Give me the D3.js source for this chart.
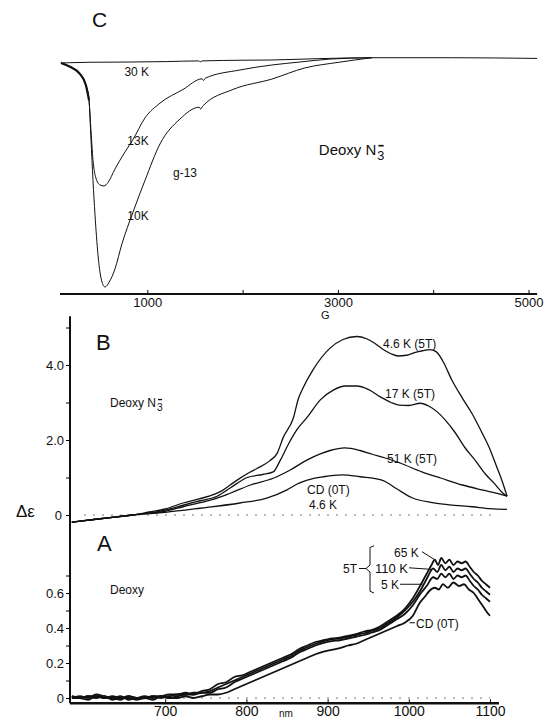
<!DOCTYPE html>
<html>
<head>
<meta charset="utf-8">
<script src="https://cdn.jsdelivr.net/npm/d3@7"></script>
<style>
body { margin: 0; background: #fff; }
svg text { font-family: "Liberation Sans", "DejaVu Sans", sans-serif; fill: #111; }
.curve { fill: none; stroke: #111; stroke-linejoin: round; }
</style>
</head>
<body>
<svg id="chart" width="544" height="719"></svg>
<script>
// ---- panel C : field sweep in G, signal in arbitrary units ----
var cTicks = [1000, 2000, 3000, 4000, 5000];
var cTickLabels = ["1000", "", "3000", "", "5000"];
var c30K = [[94,-1.3],[180,-1.2],[400,-1.0],[800,-0.9],[1200,-0.7],[1540,-0.4],[1555,-0.8],[1575,-0.4],[2000,-0.1],[2300,0],[2800,0.6],[3350,1.0],[4200,1.0],[5090,0.7]];
var c13K = [[94,-1.3],[190,-3],[290,-6],[355,-11],[388,-17.6],[409,-31],[430,-44],[461,-52],[503,-55],[545,-55.5],[587,-54],[661,-48],[766,-40.5],[850,-35],[976,-25.5],[1133,-19],[1374,-13],[1575,-8.3],[1590,-9.0],[1610,-8],[1972,-4.4],[2307,-2.2],[2600,-0.9],[2915,0.4],[3357,1.0]];
var c10K = [[94,-1.3],[190,-3],[290,-6],[355,-11],[388,-17.6],[409,-35],[430,-53],[451,-68],[483,-86],[514,-96],[556,-100],[598,-98],[661,-92],[734,-81],[850,-67],[976,-53],[1133,-37],[1343,-26],[1545,-20.8],[1560,-21.6],[1580,-20.4],[1898,-13],[2307,-8.4],[2653,-3.5],[3010,-1],[3357,1.0]];

// ---- panel B : wavelength in nm, delta epsilon ----
var bTicks = [0, 1, 2, 3, 4, 5];
var bTickLabels = ["0", "", "2.0", "", "4.0", ""];
var b46K = [[585,-0.19],[600,-0.15],[620,-0.1],[640,-0.05],[660,0],[680,0.08],[700,0.16],[722,0.32],[742,0.43],[760,0.55],[770,0.65],[780,0.8],[790,0.95],[801,1.1],[813,1.24],[829,1.45],[838,1.65],[845,2.05],[858,2.6],[864,3.1],[870,3.4],[882,3.87],[903,4.45],[919,4.68],[936,4.76],[948,4.7],[958,4.58],[968,4.42],[978,4.3],[987,4.24],[997,4.26],[1007,4.33],[1017,4.38],[1026,4.41],[1034,4.35],[1042,4.1],[1053,3.6],[1065,3.15],[1078,2.7],[1090,2.2],[1099,1.8],[1108,1.3],[1115,0.9],[1121,0.5]];
var b17K = [[585,-0.19],[620,-0.1],[660,0],[700,0.13],[722,0.26],[743,0.38],[764,0.5],[780,0.72],[801,1.0],[820,1.08],[833,1.15],[842,1.47],[852,1.9],[862,2.27],[875,2.61],[891,3.07],[907,3.33],[922,3.44],[936,3.44],[950,3.35],[965,3.15],[978,3.0],[988,2.93],[1000,2.92],[1014,2.98],[1025,2.9],[1035,2.75],[1045,2.53],[1057,2.2],[1069,1.8],[1082,1.45],[1094,1.1],[1105,0.85],[1115,0.6],[1121,0.5]];
var b51K = [[585,-0.19],[620,-0.1],[660,0],[700,0.1],[722,0.22],[743,0.33],[764,0.45],[780,0.58],[805,0.8],[833,0.98],[854,1.2],[875,1.47],[891,1.63],[903,1.72],[921,1.79],[940,1.72],[955,1.62],[971,1.52],[990,1.38],[1016,1.15],[1040,0.98],[1066,0.8],[1090,0.67],[1110,0.57],[1121,0.5]];
var bCD = [[585,-0.19],[620,-0.1],[660,0],[700,0.07],[743,0.18],[792,0.32],[825,0.45],[850,0.67],[862,0.82],[875,0.93],[895,1.02],[918,1.07],[940,1.02],[967,0.93],[985,0.7],[1004,0.46],[1029,0.33],[1050,0.27],[1078,0.22],[1100,0.17],[1121,0.15]];

// ---- panel A : wavelength in nm, delta epsilon ----
var aTicks = [0, 0.1, 0.2, 0.3, 0.4, 0.5, 0.6, 0.7];
var aTickLabels = ["0", "", "0.2", "", "0.4", "", "0.6", ""];
var nmTicks = [700, 800, 900, 1000, 1100];
var a65K = [[585,0],[595,0.01],[605,0],[615,0.02],[625,0.01],[635,0],[645,0.01],[655,-0.01],[665,0],[675,0.01],[685,0],[695,0.01],[705,0.02],[715,0.02],[725,0.03],[735,0.02],[745,0.04],[755,0.05],[765,0.08],[775,0.09],[785,0.12],[795,0.13],[805,0.15],[815,0.17],[825,0.19],[835,0.21],[845,0.23],[855,0.25],[865,0.28],[875,0.3],[885,0.32],[895,0.33],[905,0.34],[915,0.345],[925,0.355],[935,0.365],[945,0.38],[955,0.39],[965,0.41],[975,0.44],[985,0.47],[995,0.51],[1005,0.57],[1015,0.65],[1022,0.71],[1028,0.76],[1032,0.79],[1036,0.76],[1040,0.8],[1045,0.77],[1050,0.79],[1055,0.76],[1060,0.78],[1065,0.77],[1070,0.78],[1075,0.75],[1080,0.72],[1085,0.7],[1090,0.67],[1095,0.65],[1100,0.63]];
var a110K = [[585,0.01],[595,0],[605,0.01],[615,0.01],[625,0],[635,0.01],[645,0],[655,0],[665,-0.01],[675,0],[685,0.01],[695,0],[705,0.01],[715,0.02],[725,0.02],[735,0.03],[745,0.03],[755,0.04],[765,0.06],[775,0.08],[785,0.1],[795,0.12],[805,0.14],[815,0.16],[825,0.18],[835,0.2],[845,0.22],[855,0.24],[865,0.27],[875,0.29],[885,0.31],[895,0.325],[905,0.335],[915,0.34],[925,0.35],[935,0.36],[945,0.37],[955,0.385],[965,0.4],[975,0.43],[985,0.46],[995,0.5],[1005,0.55],[1015,0.62],[1022,0.68],[1030,0.74],[1035,0.72],[1040,0.76],[1045,0.73],[1050,0.75],[1055,0.72],[1060,0.74],[1065,0.73],[1070,0.74],[1075,0.71],[1080,0.68],[1085,0.66],[1090,0.63],[1095,0.61],[1100,0.59]];
var a5K = [[585,0],[595,0],[605,0.01],[615,0],[625,0.01],[635,-0.01],[645,0],[655,0.01],[665,0],[675,0],[685,0.01],[695,0.01],[705,0],[715,0.01],[725,0.02],[735,0.02],[745,0.03],[755,0.03],[765,0.05],[775,0.06],[785,0.09],[795,0.11],[805,0.13],[815,0.15],[825,0.17],[835,0.19],[845,0.21],[855,0.23],[865,0.26],[875,0.28],[885,0.3],[895,0.315],[905,0.325],[915,0.33],[925,0.34],[935,0.35],[945,0.36],[955,0.375],[965,0.39],[975,0.42],[985,0.45],[995,0.48],[1005,0.53],[1015,0.6],[1022,0.64],[1030,0.69],[1035,0.68],[1040,0.71],[1045,0.69],[1050,0.71],[1055,0.68],[1060,0.7],[1065,0.69],[1070,0.7],[1075,0.67],[1080,0.64],[1085,0.62],[1090,0.59],[1095,0.57],[1100,0.55]];
var aCD = [[585,0.01],[595,0],[605,-0.01],[615,0.01],[625,0],[635,0],[645,-0.01],[655,0.01],[665,0],[675,0],[685,-0.01],[695,0.01],[705,0],[715,0],[725,0.01],[735,0],[745,0.01],[755,0.02],[765,0.02],[775,0.03],[785,0.05],[795,0.07],[805,0.09],[815,0.11],[825,0.13],[835,0.15],[845,0.17],[855,0.19],[865,0.21],[875,0.23],[885,0.25],[895,0.265],[905,0.275],[915,0.285],[925,0.3],[935,0.31],[945,0.33],[955,0.35],[965,0.37],[975,0.39],[985,0.41],[995,0.43],[1005,0.47],[1013,0.54],[1020,0.58],[1025,0.61],[1032,0.63],[1037,0.62],[1042,0.65],[1048,0.63],[1055,0.66],[1062,0.64],[1068,0.65],[1074,0.62],[1080,0.6],[1086,0.56],[1092,0.52],[1098,0.48],[1100,0.47]];

var svg = d3.select("#chart");

var xC = d3.scaleLinear().domain([0, 5000]).range([52, 528.5]);
var yC = d3.scaleLinear().domain([-100, 0]).range([287, 60]);
var xN = d3.scaleLinear().domain([600, 1100]).range([84, 490]);
var yB = d3.scaleLinear().domain([0, 4]).range([515, 365]);
var yA = d3.scaleLinear().domain([0, 0.6]).range([698, 593]);

function drawCurve(data, x, y, w) {
  svg.append("path")
    .datum(data)
    .attr("class", "curve")
    .attr("stroke-width", w)
    .attr("d", d3.line().x(function(d) { return x(d[0]); }).y(function(d) { return y(d[1]); }).curve(d3.curveMonotoneX));
}

function label(x, y, txt, size) {
  return svg.append("text").attr("x", x).attr("y", y).attr("font-size", size).text(txt);
}

// "Deoxy N" followed by subscript 3 and a raised minus bar
function deoxyN3(x, y, size) {
  var t = label(x, y, "Deoxy N", size);
  var end = x + t.node().getComputedTextLength() + 1;
  label(end, y + size * 0.32, "3", size * 0.85);
  svg.append("line")
    .attr("x1", end + 1).attr("x2", end + size * 0.42)
    .attr("y1", y - size * 0.62).attr("y2", y - size * 0.62)
    .attr("stroke", "#111").attr("stroke-width", size / 9);
}

// ---------- panel C ----------
svg.append("line")
  .attr("x1", xC(84)).attr("x2", xC(5090))
  .attr("y1", 294).attr("y2", 294)
  .attr("stroke", "#111").attr("stroke-width", 2);

var axC = svg.append("g")
  .attr("transform", "translate(0,294)")
  .call(d3.axisBottom(xC).tickValues(cTicks).tickSize(-4).tickPadding(4)
    .tickFormat(function(d, i) { return cTickLabels[i]; }));
axC.select(".domain").remove();
axC.selectAll("text").attr("font-size", 13).attr("font-family", "Liberation Sans");

drawCurve(c30K, xC, yC, 1);
drawCurve(c13K, xC, yC, 1);
drawCurve(c10K, xC, yC, 1);
// heavier start where the traces coincide
drawCurve(c10K.slice(0, 5), xC, yC, 2.2);

label(92, 27, "C", 21);
label(xC(760), 76, "30 K", 12);
label(xC(790), 145, "13K", 12);
label(xC(790), 220, "10K", 12);
label(xC(1270), 177, "g-13", 12);
label(321, 319, "G", 11);

deoxyN3(xC(2800), 155, 15);

// ---------- panels B and A: shared wavelength axis ----------
svg.append("line")
  .attr("x1", 70).attr("x2", 70)
  .attr("y1", yB(5.3)).attr("y2", yA(-0.03))
  .attr("stroke", "#111").attr("stroke-width", 2);

var axB = svg.append("g")
  .attr("transform", "translate(70,0)")
  .call(d3.axisLeft(yB).tickValues(bTicks).tickSize(4).tickPadding(2)
    .tickFormat(function(d, i) { return bTickLabels[i]; }));
axB.select(".domain").remove();
axB.selectAll("text").attr("font-size", 13).attr("font-family", "Liberation Sans");
axB.selectAll("text").filter(function(d) { return d === 0; }).attr("dx", -2);

var axA = svg.append("g")
  .attr("transform", "translate(70,0)")
  .call(d3.axisLeft(yA).tickValues(aTicks).tickSize(4).tickPadding(2)
    .tickFormat(function(d, i) { return aTickLabels[i]; }));
axA.select(".domain").remove();
axA.selectAll("text").attr("font-size", 13).attr("font-family", "Liberation Sans");

svg.append("line")
  .attr("x1", 70).attr("x2", xN(1111))
  .attr("y1", yA(-0.03)).attr("y2", yA(-0.03))
  .attr("stroke", "#111").attr("stroke-width", 2.5);

var axN = svg.append("g")
  .attr("transform", "translate(0," + yA(-0.03) + ")")
  .call(d3.axisBottom(xN).tickValues(nmTicks).tickSize(-4).tickPadding(3).tickFormat(d3.format("d")));
axN.select(".domain").remove();
axN.selectAll("text").attr("font-size", 14).attr("font-family", "Liberation Sans");

label(xN(840), 717, "nm", 10);

// dotted zero lines
svg.append("line")
  .attr("x1", xN(600)).attr("x2", xN(1110))
  .attr("y1", yB(0)).attr("y2", yB(0))
  .attr("stroke", "#777").attr("stroke-width", 1).attr("stroke-dasharray", "2,7");
svg.append("line")
  .attr("x1", xN(600)).attr("x2", xN(1100))
  .attr("y1", yA(0)).attr("y2", yA(0))
  .attr("stroke", "#777").attr("stroke-width", 1).attr("stroke-dasharray", "2,7");

// panel B curves
drawCurve(bCD, xN, yB, 1.3);
drawCurve(b51K, xN, yB, 1.3);
drawCurve(b17K, xN, yB, 1.3);
drawCurve(b46K, xN, yB, 1.3);

label(96, 350, "B", 22);
label(16, 517, "\u0394\u03b5", 17);
deoxyN3(110, 407, 12);

label(383, 348, "4.6 K (5T)", 12);
label(385, 398, "17 K (5T)", 12);
label(387, 463, "51 K (5T)", 12);
label(307, 494, "CD (0T)", 12);
label(309, 509, "4.6 K", 12);

// panel A curves
drawCurve(aCD, xN, yA, 1.8);
drawCurve(a5K, xN, yA, 1.8);
drawCurve(a110K, xN, yA, 1.8);
drawCurve(a65K, xN, yA, 1.8);

label(97, 551, "A", 22);
label(110, 594, "Deoxy", 12);

// 5T bracket and leaders
label(343, 573, "5T", 12);
svg.append("line").attr("x1", 359).attr("x2", 366).attr("y1", yA(0.74)).attr("y2", yA(0.74))
  .attr("stroke", "#111").attr("stroke-width", 1);
svg.append("path")
  .attr("d", d3.line()([[374, yA(0.87)], [370, yA(0.86)], [370, yA(0.76)], [366, yA(0.74)], [370, yA(0.72)], [370, yA(0.61)], [374, yA(0.60)]]))
  .attr("fill", "none").attr("stroke", "#111").attr("stroke-width", 1);

label(394, 557, "65 K", 12);
label(375, 573, "110 K", 13);
label(381, 589, "5 K", 12);
label(416, 628, "CD (0T)", 12);

var leaders = [
  [[422, yA(0.836)], [xN(1032), yA(0.79)]],
  [[409, yA(0.744)], [xN(1028), yA(0.735)]],
  [[400, yA(0.65)], [xN(1017), yA(0.65)]],
  [[415, yA(0.43)], [xN(1001), yA(0.43)]]
];
leaders.forEach(function(l) {
  svg.append("line")
    .attr("x1", l[0][0]).attr("y1", l[0][1])
    .attr("x2", l[1][0]).attr("y2", l[1][1])
    .attr("stroke", "#111").attr("stroke-width", 1);
});
</script>
</body>
</html>
